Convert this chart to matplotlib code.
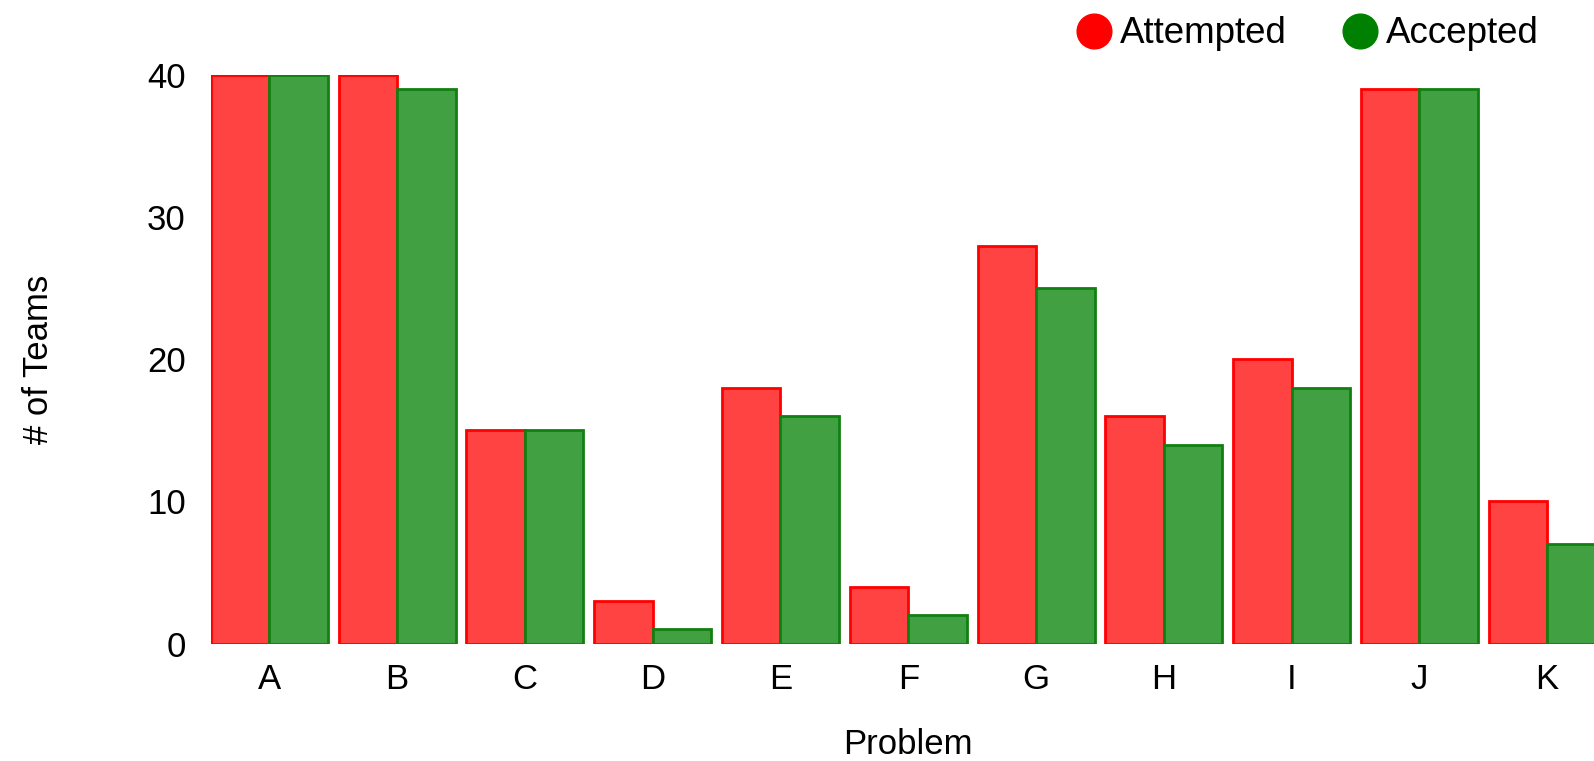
import matplotlib.pyplot as plt
import numpy as np
from matplotlib.lines import Line2D

problems = ['A', 'B', 'C', 'D', 'E', 'F', 'G', 'H', 'I', 'J', 'K']
attempted = [40, 40, 15, 3, 18, 4, 28, 16, 20, 39, 10]
accepted = [40, 39, 15, 1, 16, 2, 25, 14, 18, 39, 7]

plt.rcParams['font.family'] = ['Liberation Sans', 'DejaVu Sans']

fig = plt.figure(figsize=(15.94, 7.61), dpi=100)
ax = fig.add_axes([0.1323, 0.1544, 0.875, 0.7468])

x = np.arange(len(problems))
w = 0.4575
ax.bar(x - w / 2, attempted, w, color='#ff4343', edgecolor='#ff0000', linewidth=2)
ax.bar(x + w / 2, accepted, w, color='#41a041', edgecolor='#108010', linewidth=2)

ax.set_xlim(-w, len(problems) - 1 + w)
ax.set_ylim(0, 40)
ax.set_xticks(x)
ax.set_xticklabels(problems)
ax.set_yticks([0, 10, 20, 30, 40])
ax.tick_params(length=0, labelsize=25)
ax.tick_params(axis='x', pad=14)
ax.tick_params(axis='y', pad=18)
for s in ax.spines.values():
    s.set_visible(False)

ax.set_xlabel('Problem', fontsize=25, labelpad=23)
ax.set_ylabel('# of Teams', fontsize=25, labelpad=66)

handles = [Line2D([], [], marker='o', ls='', markersize=25, color='#ff0000'),
           Line2D([], [], marker='o', ls='', markersize=25, color='#008000')]
fig.legend(handles, ['Attempted', 'Accepted'], loc='upper right', bbox_to_anchor=(0.986, 1.022),
           ncol=2, frameon=False, fontsize=26.5, handletextpad=0.2, columnspacing=1.5,
           handlelength=1.0)

fig.savefig('out.png', dpi=100)
